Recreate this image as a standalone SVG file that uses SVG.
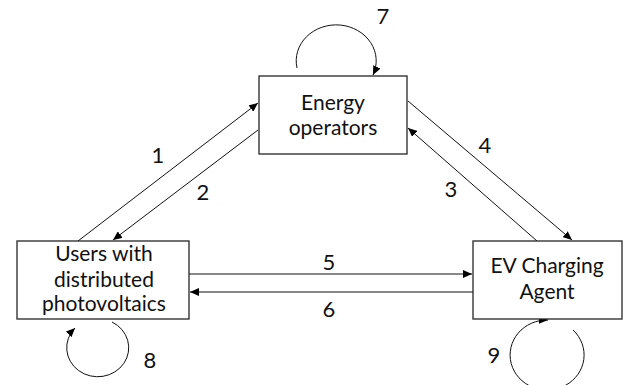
<svg xmlns="http://www.w3.org/2000/svg" width="623" height="385" viewBox="0 0 623 385">
  <style>
    .box { fill: #ffffff; stroke: #262626; stroke-width: 1.3; }
    .lbl { font-family: Lato, "Open Sans", "Liberation Sans", sans-serif; font-size: 21px; fill: #111111; text-anchor: middle; }
    .num { font-family: Lato, "Open Sans", "Liberation Sans", sans-serif; font-size: 22px; fill: #111111; text-anchor: middle; }
    .edge { fill: none; stroke: #111111; stroke-width: 1; marker-end: url(#arrow); }
  </style>
  <defs>
    <marker id="arrow" markerUnits="userSpaceOnUse" markerWidth="10" markerHeight="8" refX="9" refY="4" orient="auto">
      <path d="M0,0 L9,4 L0,8 z" fill="#000000"/>
    </marker>
  </defs>

  <rect width="623" height="385" fill="#ffffff"/>

  <!-- connectors -->
  <g id="connectors">
    <line class="edge" x1="78" y1="241" x2="258" y2="103"/>
    <line class="edge" x1="258" y1="130" x2="113" y2="240"/>
    <line class="edge" x1="537" y1="241" x2="408" y2="128"/>
    <line class="edge" x1="408" y1="101" x2="572" y2="240"/>
    <line class="edge" x1="189" y1="274" x2="472" y2="274"/>
    <line class="edge" x1="473" y1="292" x2="190" y2="292"/>
    <!-- self loops -->
    <path class="edge" d="M297,68 A40,36 0 1 1 373,75"/>
    <path class="edge" d="M112,322 A31,29 0 1 1 75,328"/>
    <path class="edge" d="M573,330 A37,35 0 1 1 548,320"/>
  </g>

  <!-- edge numbers -->
  <g id="edge-labels">
    <text class="num" x="158" y="163">1</text>
    <text class="num" x="203" y="200">2</text>
    <text class="num" x="451" y="197">3</text>
    <text class="num" x="485" y="153">4</text>
    <text class="num" x="329" y="270">5</text>
    <text class="num" x="329" y="317">6</text>
    <text class="num" x="383" y="24">7</text>
    <text class="num" x="150" y="368">8</text>
    <text class="num" x="494" y="363">9</text>
  </g>

  <g id="energy-operators">
    <rect class="box" x="259" y="76" width="148" height="78"/>
    <text class="lbl" x="333" y="110">Energy</text>
    <text class="lbl" x="333" y="135">operators</text>
  </g>

  <g id="users-pv">
    <rect class="box" x="17" y="241" width="172" height="78"/>
    <text class="lbl" x="104" y="261">Users with</text>
    <text class="lbl" x="104" y="287">distributed</text>
    <text class="lbl" x="104" y="311">photovoltaics</text>
  </g>

  <g id="ev-charging-agent">
    <rect class="box" x="473" y="241" width="149" height="78"/>
    <text class="lbl" x="547" y="273">EV Charging</text>
    <text class="lbl" x="547" y="299">Agent</text>
  </g>
</svg>
